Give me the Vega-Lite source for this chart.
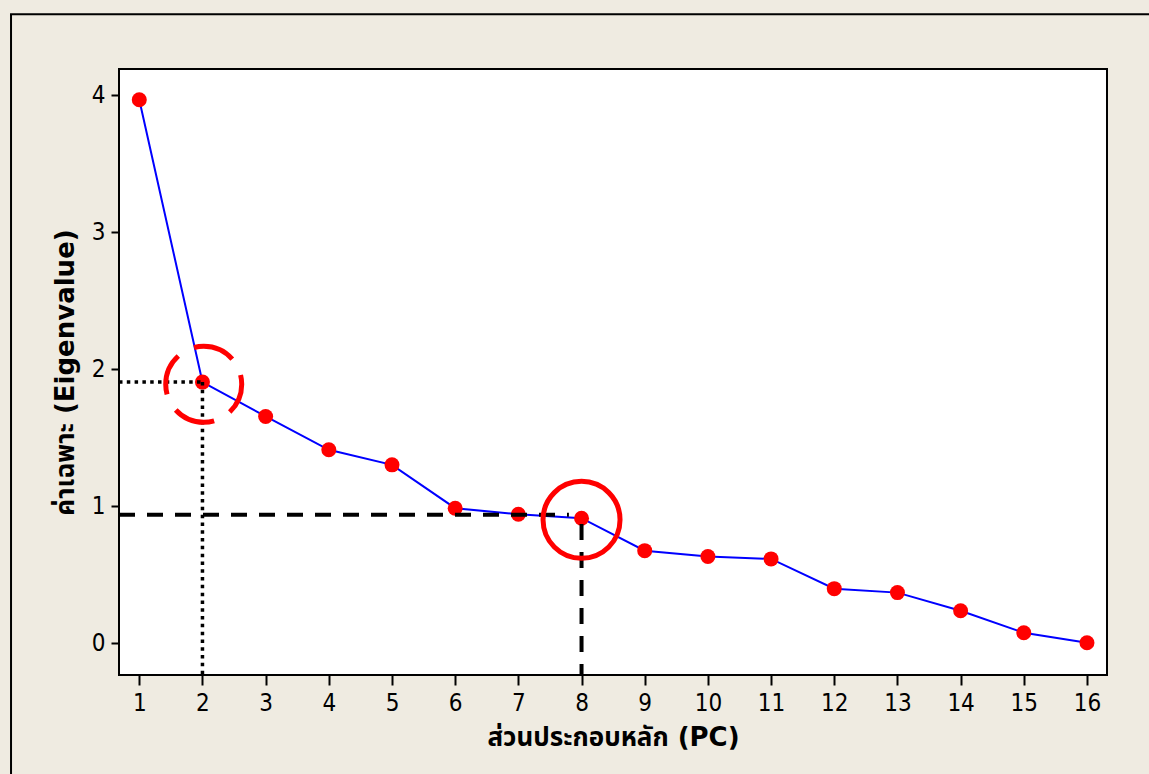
{
  "$schema": "https://vega.github.io/schema/vega-lite/v6.json",
  "width": 988,
  "height": 606,
  "autosize": {"type": "none"},
  "padding": {"left": 119, "top": 69, "right": 42, "bottom": 99},
  "background": "#efebe1",
  "config": {
    "view": {"fill": "white", "stroke": "black", "strokeWidth": 2},
    "axis": {
      "grid": false,
      "domain": false,
      "tickColor": "black",
      "tickWidth": 2,
      "labelColor": "black",
      "labelFont": "DejaVu Sans Condensed",
      "labelFontSize": 24,
      "titleFont": "DejaVu Sans, Noto Sans Thai, sans-serif",
      "titleFontSize": 26,
      "titleFontWeight": "bold",
      "titleColor": "black"
    }
  },
  "datasets": {
    "pc": [
      {"pc": 1, "eig": 3.966},
      {"pc": 2, "eig": 1.906},
      {"pc": 3, "eig": 1.655},
      {"pc": 4, "eig": 1.412},
      {"pc": 5, "eig": 1.302},
      {"pc": 6, "eig": 0.986},
      {"pc": 7, "eig": 0.942},
      {"pc": 8, "eig": 0.913},
      {"pc": 9, "eig": 0.676},
      {"pc": 10, "eig": 0.633},
      {"pc": 11, "eig": 0.616},
      {"pc": 12, "eig": 0.399},
      {"pc": 13, "eig": 0.37},
      {"pc": 14, "eig": 0.238},
      {"pc": 15, "eig": 0.077},
      {"pc": 16, "eig": 0.004}
    ],
    "refs": [
      {"x": 0.679, "x2": 2, "y": 1.906, "y2": 1.906, "style": "dotted"},
      {"x": 2, "x2": 2, "y": 1.906, "y2": -0.231, "style": "dotted"},
      {"x": 0.679, "x2": 7.8, "y": 0.938, "y2": 0.938, "style": "dashed"},
      {"x": 8, "x2": 8, "y": 0.87, "y2": -0.231, "style": "dashed"}
    ],
    "rings": [
      {"x": 2.02, "y": 1.89, "ring": "dashed"},
      {"x": 8.0, "y": 0.901, "ring": "solid"}
    ],
    "frame": [
      {"x": -1.03, "x2": 18.5, "y": 4.59, "y2": -1.5}
    ]
  },
  "layer": [
    {
      "data": {"name": "frame"},
      "mark": {"type": "rect", "fill": null, "stroke": "black", "strokeWidth": 2, "clip": false},
      "encoding": {
        "x": {"field": "x", "type": "quantitative", "scale": {"domain": [0.679, 16.317], "nice": false, "zero": false}, "axis": {"values": [1,2,3,4,5,6,7,8,9,10,11,12,13,14,15,16], "format": "d", "tickSize": 10, "labelPadding": 6, "title": "ส่วนประกอบหลัก (PC)", "titlePadding": 9}},
        "x2": {"field": "x2"},
        "y": {"field": "y", "type": "quantitative", "scale": {"domain": [-0.231, 4.19], "nice": false, "zero": false}, "axis": {"values": [0,1,2,3,4], "format": "d", "tickSize": 8, "labelPadding": 6, "title": "ค่าเฉพาะ (Eigenvalue)", "titlePadding": 13}},
        "y2": {"field": "y2"}
      }
    },
    {
      "data": {"name": "pc"},
      "mark": {"type": "line", "color": "#0000ff", "strokeWidth": 2},
      "encoding": {
        "x": {"field": "pc", "type": "quantitative"},
        "y": {"field": "eig", "type": "quantitative"}
      }
    },
    {
      "data": {"name": "pc"},
      "mark": {"type": "point", "shape": "circle", "filled": true, "color": "#ff0000", "opacity": 1, "size": 225},
      "encoding": {
        "x": {"field": "pc", "type": "quantitative"},
        "y": {"field": "eig", "type": "quantitative"}
      }
    },
    {
      "data": {"name": "refs"},
      "transform": [{"filter": "datum.style == 'dotted'"}],
      "mark": {"type": "rule", "color": "black", "strokeWidth": 3.5, "strokeDash": [3.5, 4.3]},
      "encoding": {
        "x": {"field": "x", "type": "quantitative"},
        "x2": {"field": "x2"},
        "y": {"field": "y", "type": "quantitative"},
        "y2": {"field": "y2"}
      }
    },
    {
      "data": {"name": "refs"},
      "transform": [{"filter": "datum.style == 'dashed'"}],
      "mark": {"type": "rule", "color": "black", "strokeWidth": 4, "strokeDash": [16, 12]},
      "encoding": {
        "x": {"field": "x", "type": "quantitative"},
        "x2": {"field": "x2"},
        "y": {"field": "y", "type": "quantitative"},
        "y2": {"field": "y2"}
      }
    },
    {
      "data": {"name": "rings"},
      "transform": [{"filter": "datum.ring == 'dashed'"}],
      "mark": {"type": "point", "shape": "circle", "filled": false, "color": "#ff0000", "opacity": 1, "strokeWidth": 5, "size": 5776, "strokeDash": [42, 18], "strokeDashOffset": 11},
      "encoding": {
        "x": {"field": "x", "type": "quantitative"},
        "y": {"field": "y", "type": "quantitative"}
      }
    },
    {
      "data": {"name": "rings"},
      "transform": [{"filter": "datum.ring == 'solid'"}],
      "mark": {"type": "point", "shape": "circle", "filled": false, "color": "#ff0000", "opacity": 1, "strokeWidth": 5, "size": 5929},
      "encoding": {
        "x": {"field": "x", "type": "quantitative"},
        "y": {"field": "y", "type": "quantitative"}
      }
    }
  ]
}
